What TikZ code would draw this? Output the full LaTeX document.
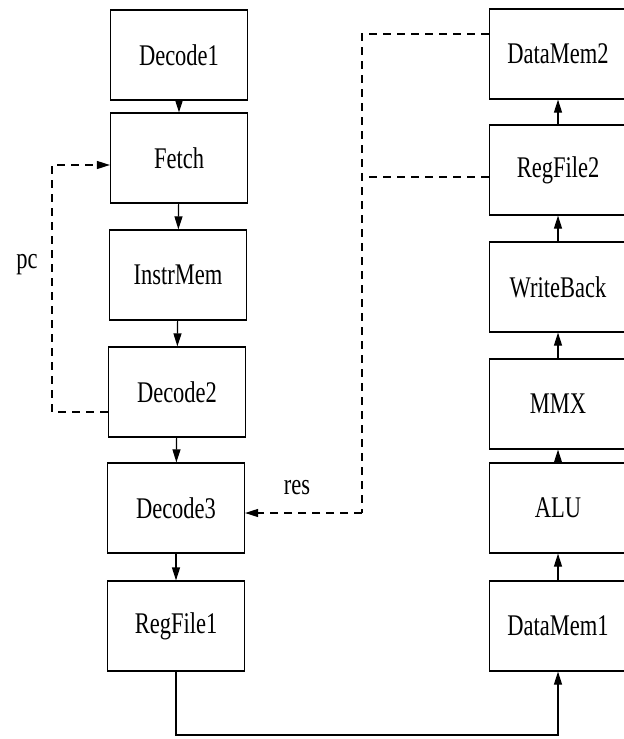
\documentclass[tikz,border=0pt]{standalone}
\usepackage{fontspec}
\setmainfont[FakeStretch=0.75]{Liberation Serif}
\usetikzlibrary{arrows.meta,calc}

\begin{document}
\begin{tikzpicture}[x=0.5pt,y=-0.5pt,
    stage/.style={draw,line width=0.6pt,minimum width=68.5pt,minimum height=45pt,
        inner sep=0pt,font=\fontsize{15}{17}\selectfont},
    flow/.style={line width=0.6pt,-{Triangle[length=6.5pt,width=4pt]}},
    back/.style={line width=0.6pt,dash pattern=on 4pt off 3pt},
    tag/.style={font=\fontsize{15}{17}\selectfont}]
\useasboundingbox (0,0) rectangle (623,739);

% front end (left column)
\node[stage] (dec1)  at (179,55)  {Decode1};
\node[stage] (fetch) at (179,158) {Fetch};
\node[stage] (imem)  at (178,275) {InstrMem};
\node[stage] (dec2)  at (177,392) {Decode2};
\node[stage] (dec3)  at (176,508) {Decode3};
\node[stage] (rf1)   at (176,626) {RegFile1};

% back end (right column)
\node[stage] (dm1) at (558,626) {DataMem1};
\node[stage] (alu) at (558,508) {ALU};
\node[stage] (mmx) at (558,404) {MMX};
\node[stage] (wb)  at (558,287) {WriteBack};
\node[stage] (rf2) at (558,170) {RegFile2};
\node[stage] (dm2) at (558,54)  {DataMem2};

% pipeline order
\draw[flow] (dec1) -- (fetch);
\draw[flow] (fetch) -- (imem);
\draw[flow] (imem) -- (dec2);
\draw[flow] (dec2) -- (dec3);
\draw[flow] (dec3) -- (rf1);

\coordinate (bus) at (176,735);
\draw[flow] (rf1) -- (bus) -| (dm1);

\draw[flow] (dm1) -- (alu);
\draw[flow] (alu) -- (mmx);
\draw[flow] (mmx) -- (wb);
\draw[flow] (wb) -- (rf2);
\draw[flow] (rf2) -- (dm2);

% pc feedback
\coordinate (pcbend) at (52,165);
\draw[flow,back] ([yshift=-10pt]dec2.west) -| (pcbend) -- (pcbend -| fetch.west);
\node[tag] (pc) at (27,265) {pc};

% result feedback
\coordinate (resbend) at (362,513);
\draw[back] ([yshift=10pt]dm2.west) -| (resbend);
\draw[back] ([yshift=-3.5pt]rf2.west) -- ([yshift=-3.5pt]rf2.west -| resbend);
\draw[flow,back] (resbend) -- (resbend -| dec3.east);
\node[tag] (res) at (297,488) {res};
\end{tikzpicture}
\end{document}
